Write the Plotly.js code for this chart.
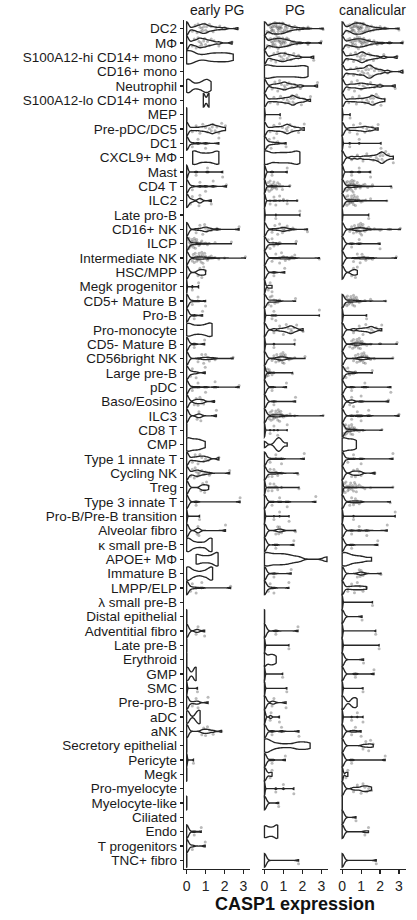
<!DOCTYPE html>
<html><head><meta charset="utf-8">
<script src="https://cdn.plot.ly/plotly-3.0.1.min.js"></script>
<style>body{margin:0;background:#fff}</style>
</head><body><div id="chart" style="width:417px;height:920px"></div>
<script>
const cellTypes = ["DC2","MΦ","S100A12-hi CD14+ mono","CD16+ mono","Neutrophil","S100A12-lo CD14+ mono","MEP","Pre-pDC/DC5","DC1","CXCL9+ MΦ","Mast","CD4 T","ILC2","Late pro-B","CD16+ NK","ILCP","Intermediate NK","HSC/MPP","Megk progenitor","CD5+ Mature B","Pro-B","Pro-monocyte","CD5- Mature B","CD56bright NK","Large pre-B","pDC","Baso/Eosino","ILC3","CD8 T","CMP","Type 1 innate T","Cycling NK","Treg","Type 3 innate T","Pro-B/Pre-B transition","Alveolar fibro","κ small pre-B","APOE+ MΦ","Immature B","LMPP/ELP","λ small pre-B","Distal epithelial","Adventitial fibro","Late pre-B","Erythroid","GMP","SMC","Pre-pro-B","aDC","aNK","Secretory epithelial","Pericyte","Megk","Pro-myelocyte","Myelocyte-like","Ciliated","Endo","T progenitors","TNC+ fibro"];
const stages = ["early PG","PG","canalicular"];
const xTicks = [0,1,2,3];
// samples per cell type: optional "bandwidth|" then values, "vxN" = value repeated N times
const earlyPG = [
"0x7 .3 .45 .55 .6 .7 .75 .8 .85 .9 .95 1 1.05 1.1 1.2 1.3 1.4 1.55 1.75 2 2.7",
"0x6 .3 .4 .5 .6 .65 .7 .75 .8 .9 .95 1 1.1 1.2 1.3 1.45 1.7 2.4",
".35|0 0 .1 .3 1.1 1.4 1.8 2.1 2.46",
"",
".15|0 0 .12 .25 .55 .8 .95 1.05 1.15 1.29",
".08|.88 .9 1.16 1.18",
".02|0x5 .01",
"0x5 .3 .5 .7 .85 1 1.1 1.2 1.3 1.35 1.4 1.5 1.6 1.7 1.85 2.05",
"0x10 .3 .6 1 1.7",
".2|.32 .32 .5 .75 1 1.25 1.5 1.7 1.7",
".06|0x10 .5 1.1 1.9",
"0x10 .3 .7 1 1.4 2.1",
"0x8 .2 .3 .65 .7 .75 1.3",
"",
"0x10 .5 .7 .85 .95 1 1.05 1.15 1.3 1.6 2.77",
"0x60 .06 .08 .1 .12 .15 .18 .2 .22 .25 .28 .3 .33 .36 .4 .43 .46 .5 .53 .56 .6 .65 .7 .75 .8 .9 1 1.1 1.2 1.5 2.36",
"0x45 .3 .35 .4 .45 .5 .53 .56 .6 .63 .66 .7 .73 .76 .8 .83 .86 .9 .95 1 1.05 1.1 1.15 1.2 1.3 1.4 1.5 1.7 2 3.1",
"0x6 .6 .7 .8 .9 1",
".02|0x6 .3 .63",
"0x12 .3 .6 1",
"0x10 .4 .84",
".2|0 0 .2 .45 .7 .95 1.15 1.34 1.34",
"0x10 .4 .95",
"0x15 .6 .8 .9 1 1.1 1.2 1.35 1.5 2.45",
"0x8 .2 .3 .5 .98",
"0x12 .3 .6 1 1.5 2.77",
"0x8 .4 .5 .6 .7 .8 .9 1.46",
"0x8 .55 .65 .75 1.57",
".02|0x5 .01",
".15|0 0 .15 .3 .45 .6 .75 .98",
"0x6 .3 .45 .6 .7 .8 .9 1 1.15 1.7",
"0x10 .2 .3 .4 .45 .5 .55 .6 .65 .7 .8 .9 1 1.2 2.27",
"0x6 .75 .85 .95 1.05 1.16",
"0x10 .5 2.82",
".03|0x8 .68",
"0x8 .55 .6 .65 2.05",
".15|0 0 .12 .25 .5 .8 1.1 1.22 1.34 1.34",
".15|.5 .5 .7 .9 1.1 1.3 1.45 1.6 1.66 1.66",
".15|0 0 .12 .25 .5 .85 1.1 1.25 1.37 1.37",
"0x12 .2 .3 .5 .8 2.32",
"",
".02|0x5 .01",
"0x8 .5 .6 .95",
".02|0x5 .01",
".02|0x5 .01",
".1|0 0 .1 .4 .5 .5",
".03|0x8 .57",
"0x8 .3 .5 .6 1.13",
".1|0 0 .1 .5 .6 .71 .71",
"0x8 .8 .9 1 1.1 1.2 1.4 1.84",
".02|0x5 .01",
".03|0x8 .36",
".02|0x5 .01",
"",
".02|0x5 .01",
"",
"0x10 .4 .77",
"0x8 .3 .98",
".02|0x5 .01"
];
const pg = [
"0x12 .15 .2 .25 .3 .32 .35 .38 .4 .42 .45 .48 .5 .52 .55 .58 .6 .62 .65 .68 .7 .72 .75 .78 .8 .82 .85 .88 .9 .93 .95 .98 1 1.03 1.06 1.1 1.13 1.17 1.2 1.25 1.3 1.36 1.42 1.5 1.6 1.72 1.85 2.05 2.3 3.1",
"0x12 .15 .22 .28 .32 .36 .4 .43 .46 .5 .53 .56 .6 .63 .66 .7 .72 .75 .78 .8 .83 .86 .9 .93 .96 1 1.03 1.07 1.1 1.14 1.18 1.22 1.27 1.32 1.38 1.45 1.55 1.7 1.9 2.3 3",
"0x6 .35 .5 .6 .7 .8 .85 .9 1 1.05 1.1 1.2 1.3 1.4 1.55 1.8 2.6",
".25|0 0 .2 .45 .7 .95 1.2 1.45 1.7 1.95 2.15 2.3",
"0x6 .4 .55 .7 .8 .9 1 1.05 1.1 1.2 1.3 1.45 1.6 1.9 2.8",
"0x6 .3 .5 .7 .85 1 1.1 1.2 1.3 1.4 1.45 1.5 1.55 1.6 1.7 1.8 1.95 2.1 2.43",
".02|0x8 .83",
"0x5 .3 .5 .65 .8 .95 1.05 1.15 1.2 1.25 1.35 1.45 1.6 1.8 2.1",
"0x10 .15 .25 .35 .5 .7 1.14",
".2|0 0 .25 .55 .8 1.05 1.3 1.55 1.75 1.87",
".06|0x10 .4 1.2",
".06|0x50 .15 .2 .25 .3 .33 .36 .4 .43 .46 .5 .55 .6 .65 .7 .8 .95 1.34",
".05|0x20 .3 .5 .6 .8 1 1.2 1.73",
".02|0x8 .6 1.87",
"0x15 .4 .55 .7 .8 .9 .95 1 1.05 1.1 1.2 1.3 1.5 2.27",
"0x25 .15 .2 .3 .4 .45 .5 .6 .7 .8 1.68",
"0x20 .4 .6 .8 .9 1 1.1 1.2 1.3 1.45 1.6 2.9",
"0x10 .5 1.07",
".05|0x6 .2 .3 .4",
"0x25 .2 .3 .35 .4 .5 .55 .6 .7 .8 1.64",
".03|0x12 .4 .5 .6 2.9",
"0x6 .5 .8 1 1.15 1.25 1.35 1.4 1.45 1.55 1.7 2.04",
".03|0x10 .5 1.6",
"0x35 .4 .5 .6 .65 .7 .75 .78 .8 .83 .86 .9 .92 .95 .98 1 1.03 1.06 1.1 1.15 1.2 1.3 1.4 1.6 2.14",
".05|0x25 .1 .15 .2 .25 .3 .4 .5 1.48",
"0x12 .4 1.16",
"0x12 .5 1.64",
"0x50 .25 .3 .35 .4 .43 .46 .5 .53 .56 .6 .63 .66 .7 .73 .76 .8 .83 .86 .9 .95 1 1.1 1.2 1.35 1.6 3.1",
".03|0x15 .3 .5 .7 1.2",
".1|0 0 .55 .65 .7 .75 .8 .85 .95 1.2",
"0x12 .3 .6 .9 2.1",
"0x20 .2 .3 .4 .5 .6 .7 .9 1.77",
".04|0x25 .2 .3 .4 .5 .6 .7 .9 1.82",
"0x12 .4 .8 1.2 2.71",
".03|0x12 .5 .8 1.3",
"0x20 .6 .7 .75 .8 .85 .9 1 1.64",
"0x12 .6 1.55",
".2|0 0 .2 .4 .6 .8 1 1.2 1.45 1.8 3.3",
"0x12 .5 1.41",
"0x15 .2 .3 .5 1.29",
"",
".02|0x5 .01",
"0x10 .6 1.77",
".03|0x10 1.29",
".1|0 0 0 .2 .3 .4 .5 .62",
".03|0x10 .96",
".03|0x10 1.18",
"0x8 .4 .5 1.14",
".05|0x8 .3 .35 .79",
"0x10 .4 .9 1.82",
".2|0 0 .05 .15 .3 .5 .8 1.2 1.6 1.8 2 2.2 2.41",
"0x10 .4 1.1",
"0x6 .3 .4",
".03|0x8 .6 1 1.55",
"0x10 .75",
"",
".12|0 0 .15 .3 .45 .6 .7 .7",
"",
"0x10 1.8"
];
const canalicular = [
"0x12 .2 .28 .35 .4 .45 .48 .52 .55 .58 .6 .62 .65 .68 .7 .72 .75 .77 .8 .82 .85 .87 .9 .92 .95 .97 1 1.02 1.05 1.08 1.1 1.13 1.16 1.2 1.24 1.28 1.32 1.37 1.42 1.48 1.55 1.63 1.72 1.85 2 2.25 3",
"0x12 .2 .28 .34 .4 .45 .5 .54 .58 .62 .66 .7 .73 .76 .8 .83 .86 .9 .93 .96 1 1.03 1.06 1.1 1.14 1.18 1.22 1.27 1.32 1.38 1.45 1.55 1.68 1.85 2.1 2.5 3.2",
"0x6 .3 .45 .6 .7 .8 .9 .95 1 1.05 1.1 1.15 1.2 1.3 1.4 1.5 1.65 1.85 2.2 2.9",
"0x5 .3 .45 .6 .75 .85 .95 1.05 1.15 1.25 1.3 1.35 1.4 1.45 1.5 1.55 1.6 1.7 1.8 1.95 2.1 2.4 3.2",
"0x6 .35 .5 .65 .8 .9 1 1.1 1.2 1.35 1.5 1.7 2 2.8",
"0x6 .35 .55 .75 .9 1.05 1.2 1.3 1.4 1.5 1.55 1.6 1.65 1.7 1.8 1.9 2.05 2.25",
".02|0x8 .42",
"0x6 .4 .6 .8 .95 1.1 1.2 1.3 1.45 1.6 1.9",
".03|0x10 .4 .9 2.05",
"0x5 .5 .8 1.1 1.3 1.5 1.65 1.8 1.9 2 2.05 2.1 2.15 2.2 2.3 2.45 2.7",
".06|0x10 .5 .9 1.5",
"0x70 .15 .2 .25 .28 .3 .33 .35 .38 .4 .42 .45 .47 .5 .52 .55 .58 .6 .63 .65 .68 .7 .73 .76 .8 .85 .9 .95 1 1.1 1.2 1.35 1.6 2.6",
"0x60 .15 .2 .25 .3 .33 .36 .4 .43 .46 .5 .53 .56 .6 .63 .66 .7 .75 .8 .85 .9 1 1.1 1.25 1.5 2.36",
".02|0x8 1.4",
"0x35 .4 .5 .6 .65 .7 .75 .78 .8 .83 .86 .9 .92 .95 .98 1 1.03 1.06 1.1 1.13 1.17 1.2 1.25 1.3 1.4 1.5 1.7 2 2.5 3.07",
"0x12 .5 .9 2",
"0x20 .6 .8 .95 1.05 1.15 1.25 1.4 1.6 2.86",
"0x6 .5 .6 .7 .8",
"",
"0x55 .15 .2 .25 .28 .3 .33 .36 .4 .43 .46 .5 .53 .56 .6 .63 .66 .7 .75 .8 .85 .9 1 1.2 1.5 2.3",
".03|0x10 1.29",
"0x6 .6 .9 1.1 1.25 1.4 1.5 1.55 1.65 1.8 2.09",
"0x55 .4 .5 .55 .6 .63 .66 .7 .72 .75 .78 .8 .83 .86 .9 .93 .96 1 1.05 1.1 1.2 1.3 1.5 2 2.9",
"0x45 .6 .7 .78 .84 .88 .92 .95 .98 1 1.03 1.06 1.09 1.12 1.15 1.18 1.22 1.26 1.3 1.35 1.4 1.5 1.7 2.68",
"0x25 .1 .15 .2 .3 .35 .4 .5 .6 .7 1.59",
"0x12 .5 1.2 2.57",
"0x10 .4 .5 .6 1 2.45",
"0x12 .5 .8 1 1.4 3",
"0x55 .08 .12 .15 .18 .2 .23 .26 .3 .33 .36 .4 .43 .46 .5 .53 .56 .6 .65 .7 .8 .9 1.1 2.1",
".15|0 0 .15 .3 .45 .6 .75",
"0x12 .3 .6 1 2.68",
"0x8 .5 .6 .7 .8 .9 1 1.73",
".04|0x55 .08 .12 .16 .2 .25 .3 .33 .36 .4 .45 .5 .55 .6 .65 .7 .75 .8 .9 1 1.1 1.2 1.5 2.68",
"0x20 .4 .5 .6 .7 .8 .9 1 2.54",
".03|0x10 .6 2.8",
"0x12 .5 .9 1.3 2.38",
"0x12 .5 1.88",
".2|0 0 .1 .25 .4 .6 .85 1.1 1.55",
"0x20 .8 .9 .95 1 1.05 1.1 1.2 2.05",
"0x6 .3 .5 .65 .8 .95 1.1 1.29",
".03|0x10 1.6",
"0x10 1.05",
".03|0x10 1.77",
".03|0x10 1.95",
"0x10 1.13",
"0x10 .7 1.68",
".03|0x10 1.1",
".1|0 0 0 .15 .5 .6 .7 .79",
".03|0x10 .5 .8 1.1",
"0x10 .5 .7 1",
"0x8 1.1 1.25 1.4 1.5 1.64",
"0x10 .5 2.27",
".05|0x4 .2 .3",
"0x6 .6 .8 1 1.1 1.2 1.3 1.4 1.55",
".02|0x5 .01",
"0x10 .73",
"0x10 1.2 1.39",
"",
"0x10 1.8"
];

function parseSamples(s) {
  if (!s) return null;
  let bw = 0.1, body = s;
  if (s.indexOf('|') >= 0) { const p = s.split('|'); bw = parseFloat(p[0]); body = p[1]; }
  const vals = [];
  body.trim().split(/\s+/).forEach(tok => {
    const m = tok.split('x');
    const v = parseFloat(m[0]);
    const n = m.length > 1 ? parseInt(m[1], 10) : 1;
    for (let i = 0; i < n; i++) vals.push(v);
  });
  return { bw, vals };
}

const FONT = "Liberation Sans, Arial, Helvetica, sans-serif";
const panels = [earlyPG, pg, canalicular];
const xRefs = ['x', 'x2', 'x3'];
const violinTraces = [], pointTraces = [];
panels.forEach((panel, pi) => {
  panel.forEach((s, ci) => {
    const d = parseSamples(s);
    if (!d) return;
    violinTraces.push({
      type: 'violin', orientation: 'h',
      x: d.vals, y: d.vals.map(() => cellTypes[ci]),
      xaxis: xRefs[pi], yaxis: 'y',
      bandwidth: d.bw, spanmode: 'hard', scalemode: 'width', width: 0.94,
      line: { color: '#262626', width: 1.35 }, fillcolor: 'rgba(0,0,0,0)',
      points: false, box: { visible: false }, meanline: { visible: false },
      hoverinfo: 'skip', showlegend: false
    });
    // jittered cells: nonzero values of zero-inflated groups
    const zeros = d.vals.filter(v => v === 0).length;
    const nz = d.vals.filter(v => v > 0.05);
    if (zeros >= 4 && nz.length) {
      pointTraces.push({
        type: 'box', orientation: 'h',
        x: nz, y: nz.map(() => cellTypes[ci]),
        xaxis: xRefs[pi], yaxis: 'y', width: 0.9,
        boxpoints: 'all', jitter: 1, pointpos: 0,
        line: { width: 0, color: 'rgba(0,0,0,0)' }, fillcolor: 'rgba(0,0,0,0)',
        whiskerwidth: 0,
        marker: { size: 3, color: 'rgba(40,40,40,0.32)', line: { width: 0 } },
        hoverinfo: 'skip', showlegend: false
      });
    }
  });
});

const xBase = {
  range: [-0.14, 3.37], tickvals: xTicks, ticktext: xTicks.map(String),
  ticks: 'outside', ticklen: 4, tickwidth: 1.2, tickcolor: '#222',
  showline: true, linecolor: '#222', linewidth: 1.3,
  showgrid: false, zeroline: false, anchor: 'y',
  tickfont: { family: FONT, size: 14, color: '#222' }, fixedrange: true
};
const layout = {
  width: 417, height: 920,
  margin: { l: 184, r: 11, t: 20, b: 51 },
  paper_bgcolor: '#fff', plot_bgcolor: '#fff',
  violinmode: 'overlay', boxmode: 'overlay',
  xaxis: Object.assign({}, xBase, { domain: [0, 0.2995] }),
  xaxis2: Object.assign({}, xBase, { domain: [0.3505, 0.65],
    title: { text: '<b>CASP1 expression</b>', font: { family: FONT, size: 18, color: '#111' }, standoff: 4 } }),
  xaxis3: Object.assign({}, xBase, { domain: [0.7005, 1] }),
  yaxis: {
    type: 'category', categoryorder: 'array', categoryarray: cellTypes,
    tickmode: 'array', tickvals: cellTypes, ticktext: cellTypes,
    range: [58.6, -0.6], anchor: 'x',
    ticks: 'outside', ticklen: 3, tickwidth: 1.2, tickcolor: '#222',
    showline: true, linecolor: '#222', linewidth: 1.3,
    showgrid: false, zeroline: false,
    tickfont: { family: FONT, size: 13.5, color: '#1a1a1a' }, fixedrange: true
  },
  annotations: stages.map((st, i) => ({
    text: st, xref: 'paper', yref: 'paper',
    x: [0.14975, 0.50025, 0.85025][i], y: 1, yanchor: 'bottom', xanchor: 'center',
    showarrow: false, font: { family: FONT, size: 14, color: '#1a1a1a' }, yshift: 0
  }))
};
Plotly.newPlot('chart', pointTraces.concat(violinTraces), layout, { staticPlot: true, displayModeBar: false });
</script>
</body></html>
